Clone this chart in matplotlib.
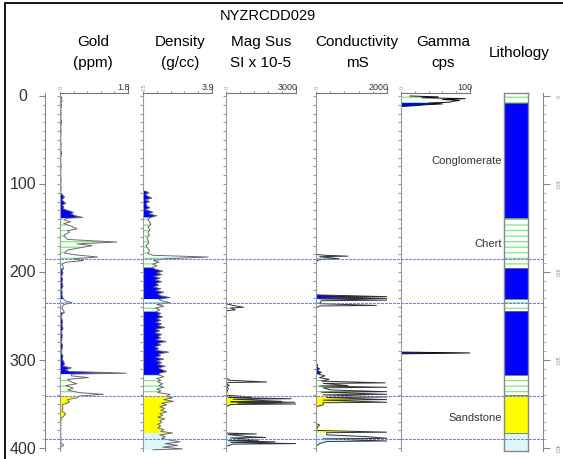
import numpy as np
import matplotlib
matplotlib.use('Agg')
import matplotlib.pyplot as plt
from matplotlib.patches import Rectangle

plt.rcParams['font.family'] = 'Liberation Sans'
plt.rcParams['hatch.linewidth'] = 0.9

# lithology intervals (depth, m)
lith_top = [-3.4, 8, 139, 195, 231, 244, 317, 340, 383]
lith_bot = [8, 139, 195, 231, 244, 317, 340, 383, 403.4]
lith_type = ['Chert', 'Conglomerate', 'Chert', 'Conglomerate', 'Chert',
             'Conglomerate', 'Chert', 'Sandstone', 'Other']
lith_labels = [('Conglomerate', 73), ('Chert', 167), ('Sandstone', 365)]
boundaries = [185, 235, 341, 390]

# log readings as (depth, value)
gold = [(0, 0.02), (2, 0.05), (4, 0.03), (6, 0.06), (8, 0.02), (10, 0.04), (15, 0.02), (20, 0.03),
        (25, 0.02), (30, 0.04), (35, 0.02), (40, 0.03), (45, 0.02), (50, 0.02), (55, 0.03), (60, 0.02),
        (65, 0.04), (70, 0.02), (75, 0.02), (80, 0.03), (85, 0.02), (90, 0.02), (95, 0.03), (100, 0.02),
        (105, 0.03), (110, 0.02), (113, 0.08), (115, 0.12), (118, 0.05), (120, 0.1), (122, 0.15),
        (124, 0.06), (126, 0.1), (128, 0.08), (130, 0.2), (132, 0.35), (134, 0.3), (136, 0.4),
        (138, 0.6), (139, 0.15), (141, 0.12), (143, 0.28), (145, 0.1), (148, 0.3), (151, 0.45),
        (153, 0.2), (155, 0.25), (158, 0.1), (160, 0.14), (163, 0.2), (166, 1.5), (168, 0.45),
        (170, 0.85), (172, 0.6), (175, 0.2), (178, 0.12), (180, 0.3), (183, 1.0), (185, 0.35),
        (187, 0.62), (189, 0.15), (191, 0.05), (194, 0.08), (196, 0.1), (198, 0.05), (201, 0.08),
        (205, 0.04), (208, 0.07), (212, 0.05), (216, 0.08), (220, 0.04), (223, 0.06), (226, 0.05),
        (229, 0.07), (231, 0.1), (233, 0.15), (235, 0.32), (237, 0.1), (240, 0.05), (243, 0.08),
        (246, 0.12), (248, 0.05), (252, 0.04), (256, 0.07), (260, 0.05), (264, 0.08), (268, 0.04),
        (272, 0.06), (276, 0.05), (280, 0.04), (284, 0.07), (288, 0.05), (292, 0.04), (296, 0.08),
        (299, 0.06), (302, 0.1), (305, 0.12), (307, 0.08), (309, 0.3), (311, 0.15), (313, 0.25),
        (315, 1.75), (316, 0.3), (318, 0.3), (320, 0.75), (322, 0.2), (325, 0.3), (327, 0.45),
        (329, 0.15), (332, 0.35), (334, 0.2), (337, 0.5), (339, 1.15), (341, 0.5), (343, 0.45),
        (345, 0.2), (348, 0.25), (351, 0.06), (355, 0.08), (358, 0.05), (361, 0.15), (363, 0.12),
        (366, 0.04), (370, 0.02), (375, 0.02), (380, 0.02), (383, 0.02), (387, 0.02), (390, 0.03),
        (394, 0.02), (397, 0.1), (399, 0.02), (402, 0.02)]

density = [(108, 2.55), (110, 2.62), (112, 2.55), (114, 2.6), (116, 2.68), (118, 2.55), (120, 2.63),
           (122, 2.56), (125, 2.58), (127, 2.64), (129, 2.55), (132, 2.7), (134, 2.62), (136, 2.78),
           (138, 2.66), (140, 2.6), (143, 2.63), (146, 2.66), (149, 2.6), (152, 2.64), (155, 2.6),
           (158, 2.63), (161, 2.58), (164, 2.6), (167, 2.62), (170, 2.56), (173, 2.6), (176, 2.63),
           (179, 2.6), (181, 2.7), (183, 3.82), (185, 2.95), (187, 2.72), (189, 2.82), (191, 2.7),
           (193, 2.78), (195, 2.68), (197, 2.76), (199, 2.9), (201, 2.78), (203, 2.88), (205, 2.72),
           (207, 2.85), (209, 2.75), (211, 2.88), (213, 2.76), (215, 2.82), (217, 2.72), (219, 2.86),
           (221, 2.76), (223, 2.92), (225, 2.8), (227, 2.86), (229, 3.05), (231, 2.82), (233, 2.9),
           (235, 3.05), (237, 2.78), (239, 2.92), (241, 2.75), (243, 2.84), (245, 2.76), (247, 2.86),
           (249, 2.8), (251, 2.9), (253, 2.78), (255, 2.86), (257, 2.76), (259, 2.88), (261, 2.8),
           (263, 2.94), (265, 2.76), (267, 2.84), (269, 2.74), (271, 2.88), (273, 2.8), (275, 2.86),
           (277, 2.76), (279, 2.97), (281, 2.8), (283, 2.86), (285, 2.74), (287, 2.82), (289, 2.76),
           (291, 3.02), (293, 2.82), (295, 2.86), (297, 2.76), (299, 2.92), (301, 2.78), (303, 2.88),
           (305, 2.8), (307, 2.95), (309, 2.82), (311, 2.88), (313, 2.98), (315, 2.84), (317, 2.82),
           (319, 2.92), (321, 2.78), (323, 2.86), (325, 2.8), (327, 2.9), (329, 2.82), (331, 2.92),
           (333, 2.78), (335, 2.86), (337, 2.8), (339, 3.05), (341, 2.98), (343, 3.1), (345, 2.92),
           (347, 3.12), (349, 2.88), (351, 2.98), (353, 2.84), (355, 2.94), (357, 2.86), (359, 2.98),
           (361, 2.84), (363, 2.9), (365, 2.8), (367, 2.94), (369, 2.84), (371, 2.88), (373, 2.8),
           (375, 2.86), (377, 2.8), (379, 2.92), (381, 2.86), (383, 3.1), (385, 2.84), (387, 2.95),
           (389, 2.88), (391, 3.05), (393, 3.25), (395, 2.95), (397, 3.2), (399, 2.9), (401, 3.3),
           (402, 2.7)]

magsus = [(0, 0), (236, 0), (238, 300), (240, 750), (241, 200), (243, 400), (244, 0), (320, 0),
          (323, 150), (325, 1750), (325.6, 100), (327, 0), (329, 150), (330, 0), (332, 100), (340, 0),
          (342, 1100), (342.6, 100), (344, 2800), (344.6, 300), (347, 2400), (347.5, 200), (348, 2950),
          (349, 500), (350, 3000), (350.6, 200), (353, 0), (383, 0), (384, 1300), (384.6, 100),
          (387, 900), (388, 1700), (388.6, 200), (391, 1400), (391.6, 100), (393, 2100), (393.6, 200),
          (395, 3000), (395.6, 300), (398, 0), (402, 0)]

conductivity = [(0, 0), (180, 0), (181, 250), (182, 900), (182.6, 100), (185, 650), (186, 100), (188, 0),
                (226, 0), (228, 2000), (228.6, 150), (230, 2000), (230.6, 100), (232, 2000), (232.6, 150),
                (236, 100), (238, 1700), (238.6, 100), (241, 0), (304, 0), (306, 50), (308, 20),
                (310, 100), (312, 30), (314, 150), (316, 60), (318, 250), (320, 100), (322, 370),
                (324, 150), (326, 1950), (326.6, 200), (329, 900), (329.6, 100), (331, 2000),
                (331.6, 200), (334, 400), (336, 2000), (336.6, 150), (339, 2000), (339.6, 200),
                (342, 2000), (342.6, 300), (345, 2000), (345.6, 200), (348, 2000), (348.6, 200),
                (351, 200), (353, 0), (372, 0), (374, 100), (376, 50), (380, 0), (382, 2000),
                (382.6, 300), (385, 300), (387, 1400), (389, 2000), (389.6, 200), (392, 2000),
                (392.6, 300), (395, 100), (398, 0), (402, 0)]

gamma = [(0, 13), (1, 54), (2, 30), (3, 93), (4, 60), (5, 85), (6, 75), (7, 71), (8, 40), (9, 60),
         (10, 35), (11, 20), (12, 0), (np.nan, np.nan), (291, 0), (292, 100), (293, 0)]

W, H = 563, 460
TOP, BOT = 94, 452
YLIM = (403.4, -3.4)

lith_style = {
    'Conglomerate': dict(facecolor='#0000ff', lw=0),
    'Chert': dict(facecolor='white', edgecolor='#80e880', hatch='---', lw=0),
    'Sandstone': dict(facecolor='#ffff00', lw=0),
    'Other': dict(facecolor='#dcf6fa', lw=0),
}

fig = plt.figure(figsize=(W / 100, H / 100), dpi=100)


def px_axes(x0, x1):
    return fig.add_axes([x0 / W, 1 - BOT / H, (x1 - x0) / W, (BOT - TOP) / H])


def fx(x):
    return x / W


def fy(y):
    return 1 - y / H


tracks = [
    ('Gold', '(ppm)', 93, 60, 128, 0, 1.8, gold, '0', '1.8', '#6a6a6a'),
    ('Density', '(g/cc)', 180, 143, 212, 2.5, 3.9, density, '2.5', '3.9', '#6a6a6a'),
    ('Mag Sus', 'SI x 10-5', 261, 226, 296, 0, 3000, magsus, '0', '3000', '#333333'),
    ('Conductivity', 'mS', 357, 316, 387, 0, 2000, conductivity, '0', '2000', '#333333'),
    ('Gamma', 'cps', 443, 401, 470, 0, 100, gamma, '0', '100', '#111111'),
]

for name, unit, tx, x0, x1, lo, hi, data, lo_lab, hi_lab, lc in tracks:
    ax = px_axes(x0, x1)
    ax.set_facecolor('none')
    ax.set_xlim(lo, hi)
    ax.set_ylim(*YLIM)
    ax.spines['right'].set_visible(False)
    ax.spines['bottom'].set_visible(False)
    ax.spines['left'].set_color('#999999')
    ax.spines['top'].set_color('#777777')
    ax.xaxis.tick_top()
    ax.set_xticks([hi])
    ax.set_xticks(np.linspace(lo, hi, 6), minor=True)
    ax.tick_params(axis='x', which='major', direction='out', length=5, color='#777777', labeltop=False)
    ax.tick_params(axis='x', which='minor', direction='out', length=1.5, color='#777777')
    ax.set_yticks(np.arange(0, 401, 10))
    ax.tick_params(axis='y', length=2, color='#999999', labelleft=False)

    arr = np.array(data, dtype=float)
    d, v = arr[:, 0], arr[:, 1]
    for top, bot, kind in zip(lith_top, lith_bot, lith_type):
        m = (d >= top) & (d <= bot)
        if m.sum() < 2:
            continue
        ax.fill_betweenx(d[m], lo, v[m], **lith_style[kind])
    ax.plot(v, d, color=lc, lw=0.7)

    fig.text(fx(tx), fy(42), name, ha='center', va='center', fontsize=11)
    fig.text(fx(tx), fy(63), unit, ha='center', va='center', fontsize=11)
    fig.text(fx(x1 + 2), fy(88), hi_lab, ha='right', va='center', fontsize=6.5, color='#333333')
    fig.text(fx(x0 + 1), fy(87), lo_lab, ha='center', va='center', fontsize=4, color='#999999', rotation=90)

# lithology column
ax_l = px_axes(504, 528)
ax_l.set_xlim(0, 1)
ax_l.set_ylim(*YLIM)
for top, bot, kind in zip(lith_top, lith_bot, lith_type):
    ax_l.axhspan(top, bot, **lith_style[kind])
for top in lith_top[1:]:
    ax_l.axhline(top, color='#667766', lw=0.6)
for s in ax_l.spines.values():
    s.set_color('#888888')
    s.set_linewidth(1)
ax_l.set_xticks([])
ax_l.set_yticks([])
fig.text(fx(519), fy(53), 'Lithology', ha='center', va='center', fontsize=11)

# left depth axis
ax_d = px_axes(45, 55)
ax_d.set_facecolor('none')
ax_d.set_ylim(*YLIM)
for s in ['right', 'top', 'bottom']:
    ax_d.spines[s].set_visible(False)
ax_d.spines['left'].set_color('#888888')
ax_d.set_xticks([])
ax_d.set_yticks(np.arange(0, 401, 100))
ax_d.set_yticks(np.arange(0, 401, 10), minor=True)
ax_d.tick_params(axis='y', which='major', length=4, color='#888888', labelleft=False)
ax_d.tick_params(axis='y', which='minor', length=2, color='#aaaaaa')

# right depth axis
ax_r = px_axes(543, 553)
ax_r.set_facecolor('none')
ax_r.set_ylim(*YLIM)
for s in ['right', 'top', 'bottom']:
    ax_r.spines[s].set_visible(False)
ax_r.spines['left'].set_color('#888888')
ax_r.set_xticks([])
ax_r.set_yticks(np.arange(0, 401, 100))
ax_r.set_yticks(np.arange(0, 401, 10), minor=True)
ax_r.tick_params(axis='y', which='major', direction='in', length=5, color='#888888', labelleft=False)
ax_r.tick_params(axis='y', which='minor', direction='in', length=2.5, color='#aaaaaa')

# overlay for cross-track lines and labels
ax_o = fig.add_axes([0, 1 - BOT / H, 1, (BOT - TOP) / H])
ax_o.set_xlim(0, W)
ax_o.set_ylim(*YLIM)
ax_o.axis('off')
for dep in boundaries:
    ax_o.plot([45, 543], [dep, dep], color='#7a7aff', ls=(0, (2.5, 1.5)), lw=0.8,
              snap=True, antialiased=False)
for dep in range(0, 401, 100):
    ax_o.text(23, dep, str(dep), ha='center', va='center', fontsize=11.5, color='#333333', clip_on=False)
    ax_o.text(556, dep, str(dep), ha='center', va='center', fontsize=4, color='#999999',
              rotation=-90, clip_on=False)
for lab, dep in lith_labels:
    ax_o.text(502, dep, lab, ha='right', va='center', fontsize=8, color='#333340')

fig.text(fx(268), fy(16), 'NYZRCDD029', ha='center', va='center', fontsize=10.5)

fig.add_artist(Rectangle((5 / W, -0.05), 1.1, 1.05 - 4 / H, transform=fig.transFigure,
                         fill=False, ec='black', lw=1.3))

fig.savefig('out.png', dpi=100)
